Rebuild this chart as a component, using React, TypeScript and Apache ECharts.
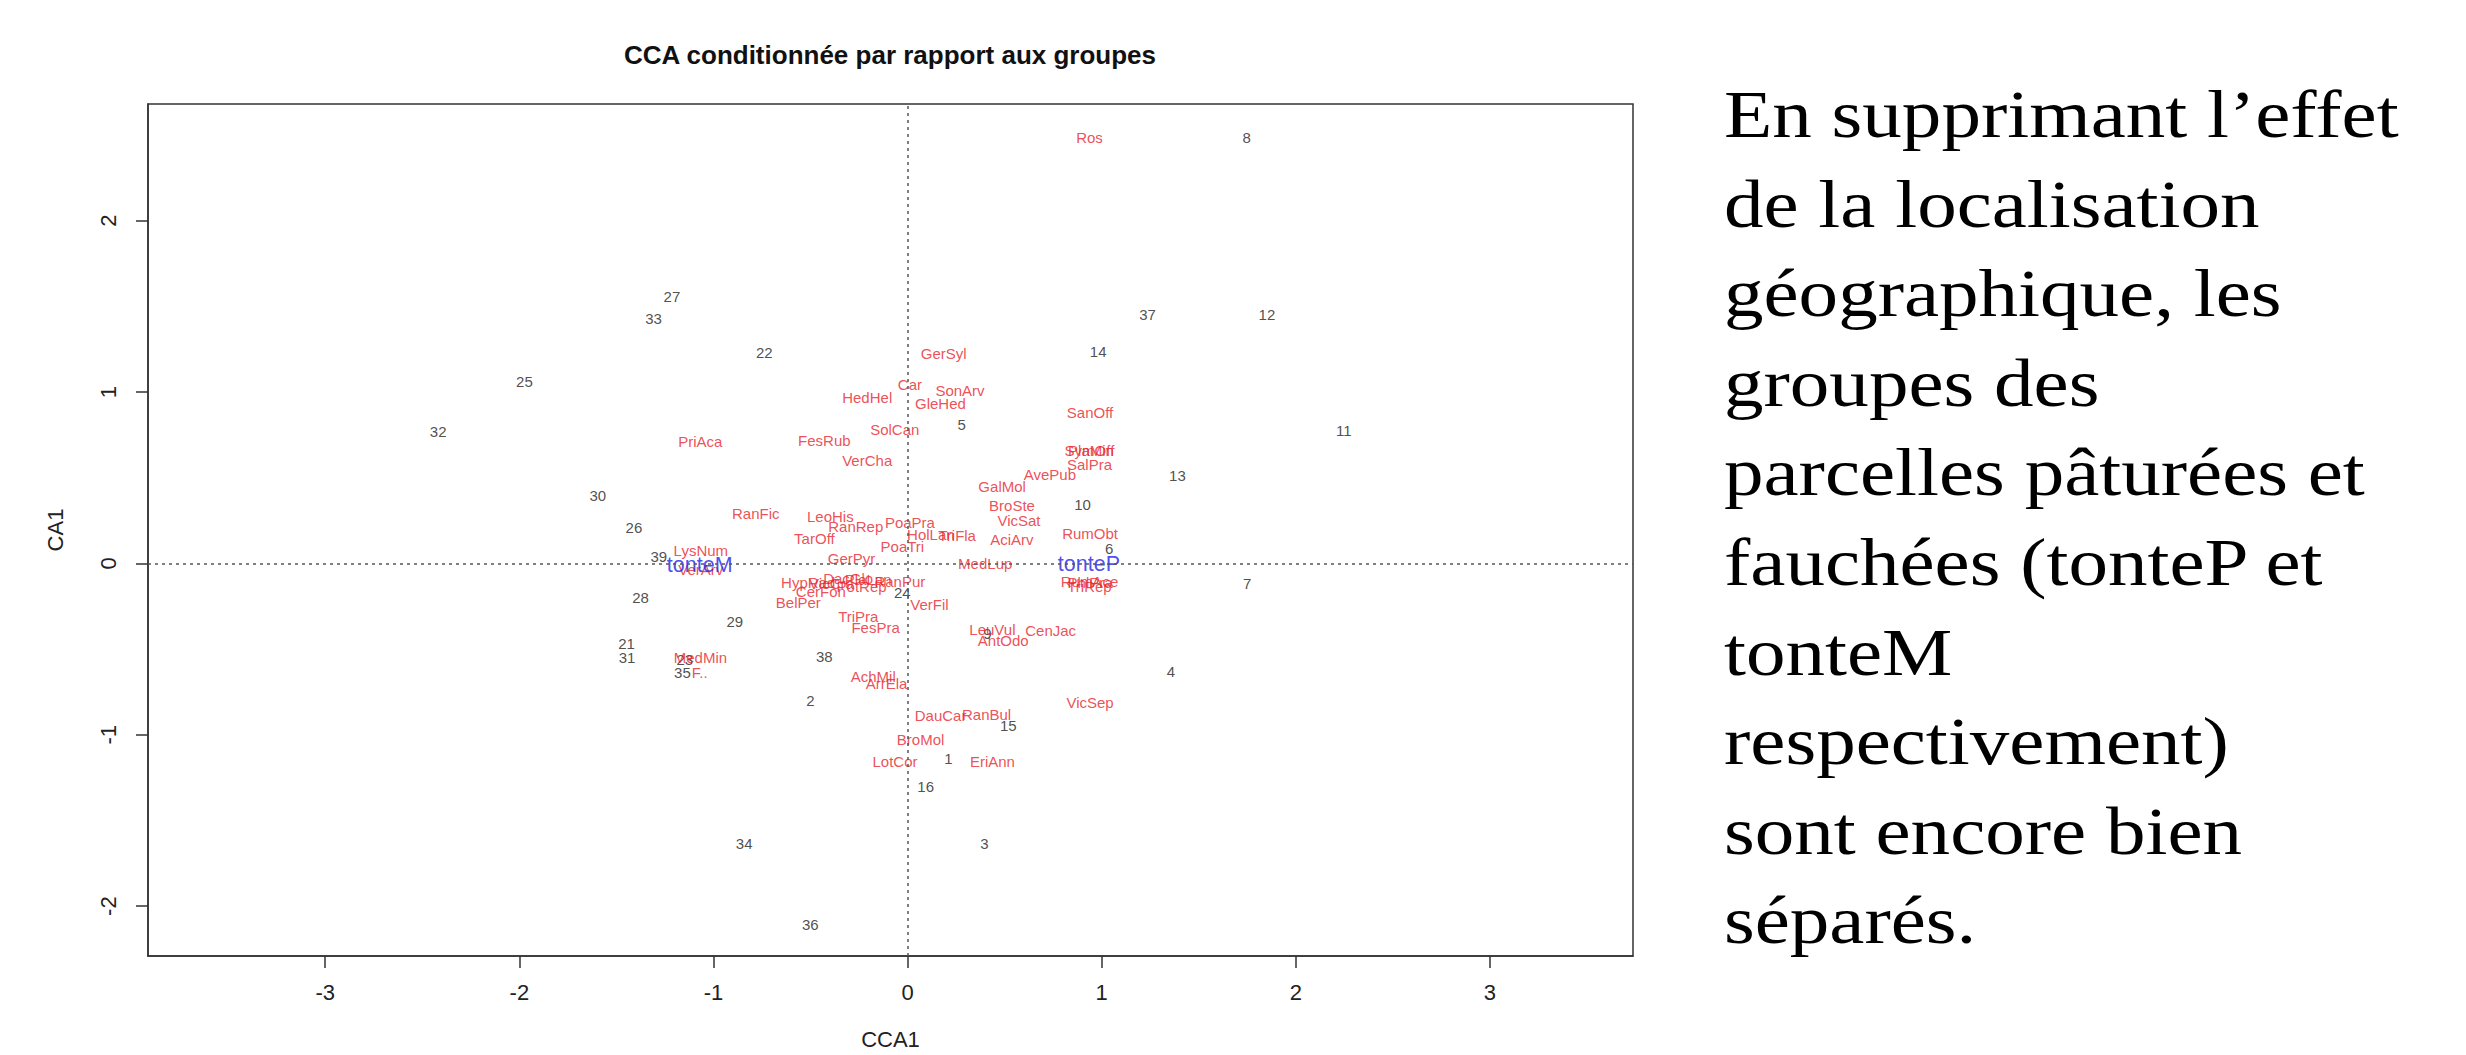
import React, { useEffect, useRef } from 'react';
import * as echarts from 'echarts';

// Axis ticks
const xTicks = [-3, -2, -1, 0, 1, 2, 3];
const yTicks = [-2, -1, 0, 1, 2];
const xRange = [-3.913, 3.737];
const yRange = [-2.291, 2.681];

// Sites (black numbers)
const siteNames = ['27', '33', '22', '25', '32', '8', '37', '12', '14', '5', '11', '13', '10', '30', '26', '39', '6', '7', '24', '28', '29', '21', '31', '23', '35', '38', '2', '9', '4', '15', '1', '16', '34', '3', '36'];
const siteX = [-1.214, -1.309, -0.738, -1.974, -2.418, 1.747, 1.236, 1.851, 0.982, 0.278, 2.247, 1.390, 0.901, -1.596, -1.410, -1.282, 1.038, 1.750, -0.027, -1.376, -0.890, -1.448, -1.445, -1.148, -1.160, -0.429, -0.500, 0.411, 1.356, 0.519, 0.211, 0.093, -0.842, 0.396, -0.501];
const siteY = [1.557, 1.432, 1.233, 1.060, 0.767, 2.487, 1.451, 1.455, 1.239, 0.811, 0.776, 0.513, 0.343, 0.399, 0.208, 0.042, 0.089, -0.116, -0.172, -0.200, -0.341, -0.470, -0.549, -0.559, -0.634, -0.543, -0.798, -0.408, -0.630, -0.944, -1.137, -1.301, -1.636, -1.632, -2.108];

// Species (red labels)
const speciesNames = ['Ros', 'GerSyl', 'Car', 'SonArv', 'HedHel', 'GleHed', 'SanOff', 'SolCan', 'FesRub', 'PriAca', 'SymOff', 'PlaMin', 'SalPra', 'VerCha', 'AvePub', 'GalMol', 'BroSte', 'VicSat', 'RanFic', 'LeoHis', 'RanRep', 'PoaPra', 'RumObt', 'HolLan', 'TriFla', 'AciArv', 'TarOff', 'PoaTri', 'LysNum', 'GerPyr', 'MedLup', 'VerArv', 'RumAce', 'PhlPra', 'TriRep', 'HypRad', 'DacGlo', 'PlaLan', 'RanPur', 'VicCra', 'PotRep', 'CerFon', 'VerFil', 'BelPer', 'TriPra', 'FesPra', 'LeuVul', 'AntOdo', 'CenJac', 'MedMin', 'F..', 'AchMil', 'ArrEla', 'VicSep', 'DauCar', 'RanBul', 'BroMol', 'LotCor', 'EriAnn'];
const speciesX = [0.937, 0.186, 0.012, 0.270, -0.208, 0.169, 0.940, -0.066, -0.429, -1.068, 0.937, 0.945, 0.937, -0.208, 0.733, 0.487, 0.538, 0.574, -0.782, -0.398, -0.267, 0.012, 0.940, 0.120, 0.255, 0.537, -0.480, -0.027, -1.065, -0.289, 0.400, -1.065, 0.937, 0.940, 0.937, -0.512, -0.306, -0.203, -0.040, -0.392, -0.237, -0.447, 0.113, -0.563, -0.254, -0.165, 0.437, 0.493, 0.737, -1.067, -1.071, -0.177, -0.108, 0.940, 0.170, 0.407, 0.067, -0.065, 0.437];
const speciesY = [2.487, 1.225, 1.042, 1.008, 0.969, 0.931, 0.883, 0.782, 0.715, 0.713, 0.661, 0.661, 0.580, 0.603, 0.516, 0.449, 0.337, 0.252, 0.291, 0.274, 0.216, 0.241, 0.173, 0.166, 0.161, 0.141, 0.146, 0.100, 0.077, 0.027, -0.002, -0.035, -0.104, -0.114, -0.135, -0.110, -0.087, -0.091, -0.104, -0.116, -0.135, -0.162, -0.239, -0.229, -0.312, -0.374, -0.383, -0.447, -0.389, -0.551, -0.636, -0.659, -0.698, -0.809, -0.890, -0.884, -1.025, -1.154, -1.154];

// Group centroids (blue labels)
const groupNames = ['tonteM', 'tonteP'];
const groupX = [-1.071, 0.934];
const groupY = [-0.010, -0.004];

// Side text
const sideLines = [
  'En supprimant l\u2019effet',
  'de la localisation',
  'g\u00e9ographique, les',
  'groupes des',
  'parcelles p\u00e2tur\u00e9es et',
  'fauch\u00e9es (tonteP et',
  'tonteM',
  'respectivement)',
  'sont encore bien',
  's\u00e9par\u00e9s.',
];

const titleText = 'CCA conditionn\u00e9e par rapport aux groupes';

const FONT = '"Liberation Sans", Arial, Helvetica, sans-serif';

function toData(names: string[], xs: number[], ys: number[]) {
  return names.map((n, i) => ({ name: n, value: [xs[i], ys[i]] }));
}

function labelSeries(name: string, data: any[], color: string, size: number, extra: any = {}) {
  return {
    name,
    type: 'scatter',
    data,
    symbol: 'circle',
    symbolSize: 1,
    itemStyle: { color: 'rgba(0,0,0,0)' },
    silent: true,
    emphasis: { disabled: true },
    labelLayout: { hideOverlap: false },
    label: {
      show: true,
      position: 'inside',
      formatter: '{b}',
      color,
      fontSize: size,
      fontFamily: FONT,
      align: 'center',
      verticalAlign: 'middle',
    },
    ...extra,
  };
}

export default function App() {
  const ref = useRef<HTMLDivElement>(null);

  useEffect(() => {
    if (!ref.current) return;
    const chart = echarts.init(ref.current, null, { renderer: 'svg' });

    const axisCommon = {
      type: 'value',
      splitLine: { show: false },
      axisLine: { show: true, onZero: false, lineStyle: { color: '#333', width: 1.5 } },
      axisTick: { show: true, inside: false, length: 12, lineStyle: { color: '#333', width: 1.5 } },
    };

    const option: any = {
      animation: false,
      backgroundColor: '#ffffff',
      title: {
        text: titleText,
        left: 890,
        top: 42,
        padding: 0,
        textAlign: 'center',
        textStyle: { fontFamily: FONT, fontSize: 26, fontWeight: 'bold', color: '#111' },
      },
      grid: {
        left: 148,
        right: 2466 - 1633,
        top: 104,
        bottom: 1055 - 962,
        show: true,
        borderColor: '#333',
        borderWidth: 1.5,
        containLabel: false,
      },
      xAxis: {
        ...axisCommon,
        min: xRange[0],
        max: xRange[1],
        name: 'CCA1',
        nameLocation: 'middle',
        nameGap: 72,
        nameTextStyle: { fontFamily: FONT, fontSize: 22, color: '#222' },
        axisTick: { ...axisCommon.axisTick, customValues: xTicks },
        axisLabel: { customValues: xTicks, fontFamily: FONT, fontSize: 22, color: '#222', margin: 25 },
      },
      yAxis: {
        ...axisCommon,
        min: yRange[0],
        max: yRange[1],
        name: 'CA1',
        nameLocation: 'middle',
        nameGap: 82,
        nameRotate: 90,
        nameTextStyle: { fontFamily: FONT, fontSize: 22, color: '#222' },
        axisTick: { ...axisCommon.axisTick, customValues: yTicks },
        axisLabel: { customValues: yTicks, rotate: 90, fontFamily: FONT, fontSize: 22, color: '#222', margin: 29 },
      },
      series: [
        labelSeries('sites', toData(siteNames, siteX, siteY), '#222222', 15, {
          markLine: {
            silent: true,
            symbol: ['none', 'none'],
            label: { show: false },
            lineStyle: { type: [3, 4], color: '#555', width: 1.5 },
            data: [{ xAxis: 0 }, { yAxis: 0 }],
          },
        }),
        labelSeries('species', toData(speciesNames, speciesX, speciesY), '#e8232b', 15),
        labelSeries('groups', toData(groupNames, groupX, groupY), '#2020e8', 21.5),
      ],
      graphic: sideLines.map((line, i) => ({
        type: 'text',
        x: 1724,
        y: 114.5 + 89.6 * i,
        scaleX: 1.18,
        silent: true,
        style: {
          text: line,
          fill: '#000',
          fontFamily: '"Liberation Serif", "Times New Roman", serif',
          fontSize: 67,
          align: 'left',
          verticalAlign: 'middle',
        },
      })),
    };

    chart.setOption(option);
    return () => chart.dispose();
  }, []);

  return (
    <div
      ref={ref}
      style={{ position: 'absolute', left: 0, top: 0, width: 2466, height: 1055, background: '#fff' }}
    />
  );
}
